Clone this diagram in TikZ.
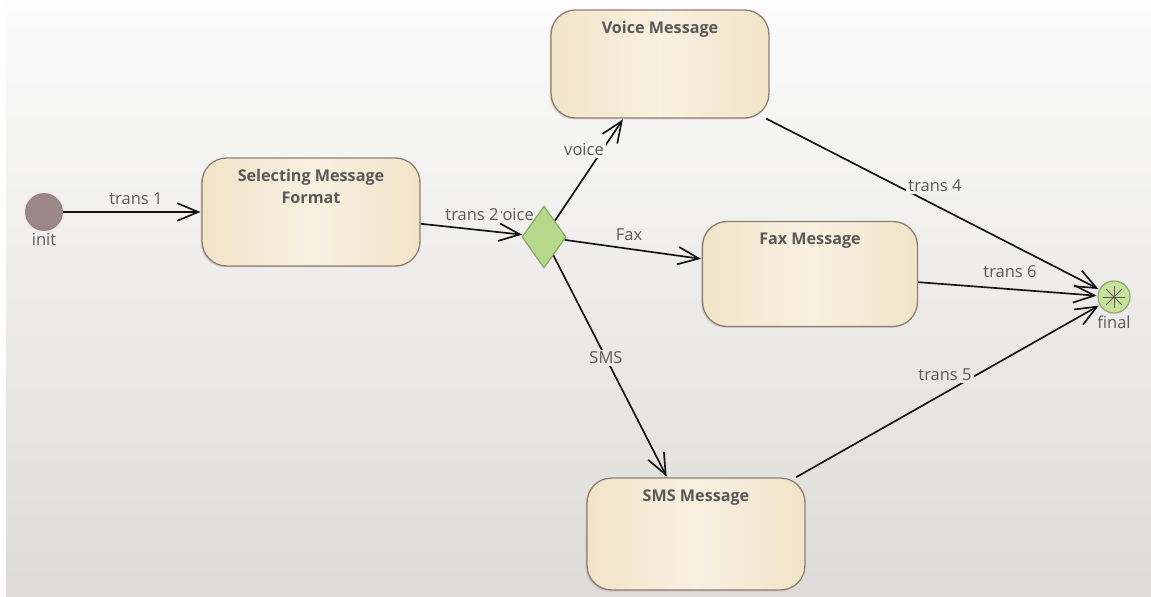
\documentclass[tikz,border=0pt]{standalone}
\usepackage{fontspec}
\setmainfont{Open Sans}
\usepackage{xcolor}
\usetikzlibrary{shapes.geometric, arrows.meta, positioning, shadows}

\definecolor{bgtop}{HTML}{FCFCFC}
\definecolor{bgbot}{HTML}{DDDBD7}
\definecolor{boxfill}{HTML}{F1E4C8}
\definecolor{boxlight}{HTML}{F8F0E0}
\definecolor{boxdraw}{HTML}{8E8070}
\definecolor{initfill}{HTML}{9C8787}
\definecolor{decfill}{HTML}{B6D98C}
\definecolor{decdraw}{HTML}{8BA866}
\definecolor{finalfill}{HTML}{C6E39A}
\definecolor{finaldraw}{HTML}{8FA876}
\definecolor{lbltext}{HTML}{5A5A5A}
\definecolor{linecol}{HTML}{141414}

\begin{document}
\begin{tikzpicture}[
    x=0.02cm, y=-0.02cm,
    statebox/.style={rectangle, rounded corners=14pt, draw=boxdraw, line width=0.75pt,
        left color=boxfill, right color=boxfill, middle color=boxlight,
        minimum width=4.36cm, minimum height=2.16cm, inner sep=0pt,
        drop shadow={shadow xshift=-0.8pt, shadow yshift=-0.8pt, opacity=0.25}},
    title/.style={anchor=north, yshift=-3.5pt, align=center, font=\fontsize{9.2}{12.5}\selectfont\bfseries, text=lbltext},
    lbl/.style={fill=bgbot!#1!bgtop, inner sep=1.2pt, font=\fontsize{9.4}{11}\selectfont, text=lbltext},
    trans/.style={-{Straight Barb[length=12pt, width=10pt, line width=0.95pt]}, line width=0.95pt, draw=linecol, shorten >=0.5pt}
]

% background
\fill[white] (0,0) rectangle (1151,597);
\shade[top color=bgtop, bottom color=bgbot] (6,0) rectangle (1151,597);

% states
\node[circle, fill=initfill, minimum size=0.76cm, inner sep=0pt,
      label={[lbl=40, fill=none, inner sep=0pt, yshift=-1pt]below:init}] (init) at (44,212) {};
\node[statebox, label={[title]north:Selecting Message\\Format}] (select) at (311,212) {};
\node[diamond, fill=decfill, draw=decdraw, line width=0.7pt, minimum width=0.88cm, minimum height=1.24cm, inner sep=0pt] (choice) at (544,237) {};
\node[statebox, label={[title]north:Voice Message}] (voice) at (660,64) {};
\node[statebox, minimum width=4.3cm, minimum height=2.1cm, label={[title]north:Fax Message}] (fax) at (810,274) {};
\node[statebox, minimum height=2.24cm, label={[title]north:SMS Message}] (sms) at (696,534) {};
\node[circle, fill=finalfill, draw=finaldraw, line width=0.7pt, minimum size=0.64cm, inner sep=0pt,
      label={[lbl=55, fill=none, inner sep=0pt, yshift=-1pt]below:final}] (final) at (1114,297) {};
\foreach \a in {0,45,90,135}
    \draw[draw=lbltext, line width=0.5pt] (final.center) +(\a:11) -- +(\a+180:11);

% transitions
\draw[trans] (init) -- (select);
\draw[trans] (choice) -- (voice);
\draw[trans] (choice) -- (fax);
\draw[trans] (choice) -- (sms);
\draw[trans] (voice) -- (final);
\draw[trans] (fax) -- (final);
\draw[trans] (sms) -- (final);
\node[lbl=36, fill=none] (hidden) at (514,215) {voice};
\draw[trans] (select) -- (choice);

% transition labels
\node[lbl=33] (t1) at (136,199) {trans 1};
\node[lbl=36] (t2) at (472,215) {trans 2};
\node[lbl=25] (gvoice) at (584,150) {voice};
\node[lbl=39] (gfax) at (629,235) {Fax};
\node[lbl=60] (gsms) at (606,358) {SMS};
\node[lbl=31] (t4) at (935,186) {trans 4};
\node[lbl=46] (t6) at (1010,272) {trans 6};
\node[lbl=63] (t5) at (945,375) {trans 5};

\end{tikzpicture}
\end{document}
